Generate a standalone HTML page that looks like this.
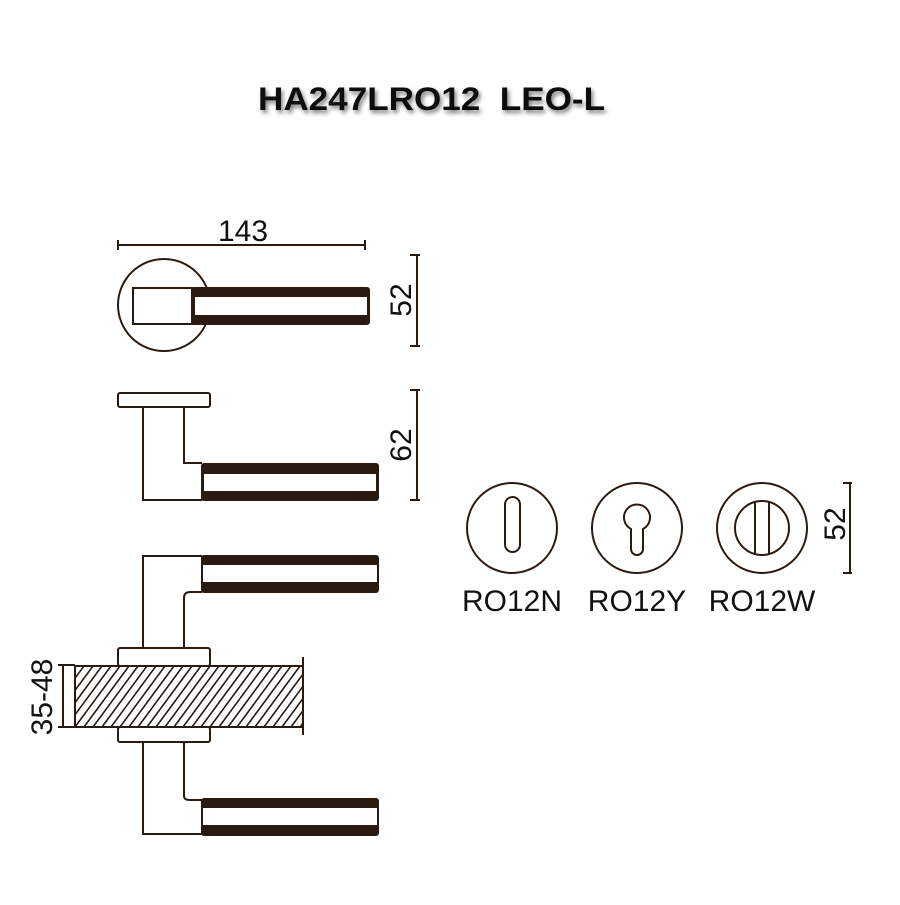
<!DOCTYPE html>
<html><head><style>body{margin:0;background:#fff}</style></head><body>
<svg width="900" height="900" viewBox="0 0 900 900" xmlns="http://www.w3.org/2000/svg" font-family="Liberation Sans, sans-serif">
<defs>
<clipPath id="c"><rect x="75" y="666" width="228" height="61"/></clipPath>
<filter id="s"><feDropShadow dx="2" dy="3" stdDeviation="2" flood-color="#000" flood-opacity="0.5"/></filter>
</defs>
<text x="258" y="110" font-size="32" font-weight="bold" fill="#111" filter="url(#s)" textLength="347" lengthAdjust="spacingAndGlyphs" xml:space="preserve">HA247LRO12  LEO-L</text>
<g stroke="#2a1a10" stroke-width="1.6" clip-path="url(#c)">
<line x1="30" y1="727" x2="75" y2="666"/><line x1="39" y1="727" x2="84" y2="666"/><line x1="48" y1="727" x2="93" y2="666"/><line x1="57" y1="727" x2="102" y2="666"/><line x1="66" y1="727" x2="111" y2="666"/><line x1="75" y1="727" x2="120" y2="666"/><line x1="84" y1="727" x2="129" y2="666"/><line x1="93" y1="727" x2="138" y2="666"/><line x1="102" y1="727" x2="147" y2="666"/><line x1="111" y1="727" x2="156" y2="666"/><line x1="120" y1="727" x2="165" y2="666"/><line x1="129" y1="727" x2="174" y2="666"/><line x1="138" y1="727" x2="183" y2="666"/><line x1="147" y1="727" x2="192" y2="666"/><line x1="156" y1="727" x2="201" y2="666"/><line x1="165" y1="727" x2="210" y2="666"/><line x1="174" y1="727" x2="219" y2="666"/><line x1="183" y1="727" x2="228" y2="666"/><line x1="192" y1="727" x2="237" y2="666"/><line x1="201" y1="727" x2="246" y2="666"/><line x1="210" y1="727" x2="255" y2="666"/><line x1="219" y1="727" x2="264" y2="666"/><line x1="228" y1="727" x2="273" y2="666"/><line x1="237" y1="727" x2="282" y2="666"/><line x1="246" y1="727" x2="291" y2="666"/><line x1="255" y1="727" x2="300" y2="666"/><line x1="264" y1="727" x2="309" y2="666"/><line x1="273" y1="727" x2="318" y2="666"/><line x1="282" y1="727" x2="327" y2="666"/><line x1="291" y1="727" x2="336" y2="666"/><line x1="300" y1="727" x2="345" y2="666"/>
</g>
<g stroke="#2a1a10" fill="none" stroke-width="2">
<line x1="118" y1="245" x2="365" y2="245"/><line x1="118" y1="240" x2="118" y2="250"/><line x1="365" y1="240" x2="365" y2="250"/>
<circle cx="164" cy="305" r="46" fill="#fff"/>
<rect x="133" y="288" width="59" height="36" fill="#fff"/>
<rect x="192" y="288" width="177" height="36" fill="#2a1a10" rx="2"/>
<rect x="195" y="297" width="172" height="18" fill="#fff" stroke="none"/>
<line x1="417" y1="255" x2="417" y2="346"/><line x1="410" y1="255" x2="420" y2="255"/><line x1="410" y1="346" x2="420" y2="346"/>
<rect x="118" y="393" width="92" height="14" rx="2" fill="#fff"/>
<path d="M143 407 V500 H202 M184 407 V463 H202" fill="#fff"/>
<rect x="202" y="464" width="176" height="36" fill="#2a1a10" rx="2"/>
<rect x="204" y="474" width="172" height="17" fill="#fff" stroke="none"/>
<line x1="417" y1="390" x2="417" y2="500"/><line x1="410" y1="390" x2="420" y2="390"/><line x1="410" y1="500" x2="420" y2="500"/>
<path d="M143 648 V556 H202 M202 592 H190 Q184 592 184 598 V648"/>
<rect x="202" y="556" width="176" height="36" fill="#2a1a10" rx="2"/>
<rect x="203" y="565" width="174" height="17" fill="#fff" stroke="none"/>
<rect x="118" y="648" width="92" height="18" rx="2" fill="#fff"/>
<rect x="75" y="666" width="228" height="61"/>
<line x1="303" y1="657" x2="303" y2="735"/>
<rect x="118" y="727" width="92" height="15" rx="2" fill="#fff"/>
<path d="M143 742 V834 H202 M184 742 V796 Q184 800 190 800 H202"/>
<rect x="202" y="799" width="176" height="36" fill="#2a1a10" rx="2"/>
<rect x="203" y="808" width="174" height="17" fill="#fff" stroke="none"/>
<line x1="63" y1="665" x2="63" y2="727"/><line x1="58" y1="665" x2="75" y2="665"/><line x1="58" y1="727" x2="75" y2="727"/>
<circle cx="512" cy="528" r="45"/>
<rect x="505" y="497" width="15" height="55" rx="7.5"/>
<circle cx="637" cy="528" r="45"/>
<path d="M631 529 A13 13 0 1 1 643 529 V549 A6 6 0 0 1 631 549 Z"/>
<circle cx="762" cy="528" r="45"/>
<circle cx="762" cy="528" r="27"/>
<line x1="755" y1="501" x2="755" y2="555"/><line x1="769" y1="501" x2="769" y2="555"/>
<line x1="850" y1="483" x2="850" y2="573"/><line x1="843" y1="483" x2="852" y2="483"/><line x1="843" y1="573" x2="852" y2="573"/>
</g>
<g fill="#111" font-size="30">
<text x="243" y="241" text-anchor="middle">143</text>
<text transform="translate(411,300) rotate(-90)" text-anchor="middle">52</text>
<text transform="translate(411,445) rotate(-90)" text-anchor="middle">62</text>
<text transform="translate(52,697) rotate(-90)" text-anchor="middle">35-48</text>
<text transform="translate(845,524) rotate(-90)" text-anchor="middle">52</text>
<text x="512" y="611" text-anchor="middle">RO12N</text>
<text x="637" y="611" text-anchor="middle">RO12Y</text>
<text x="762" y="611" text-anchor="middle">RO12W</text>
</g>
</svg>
</body></html>
